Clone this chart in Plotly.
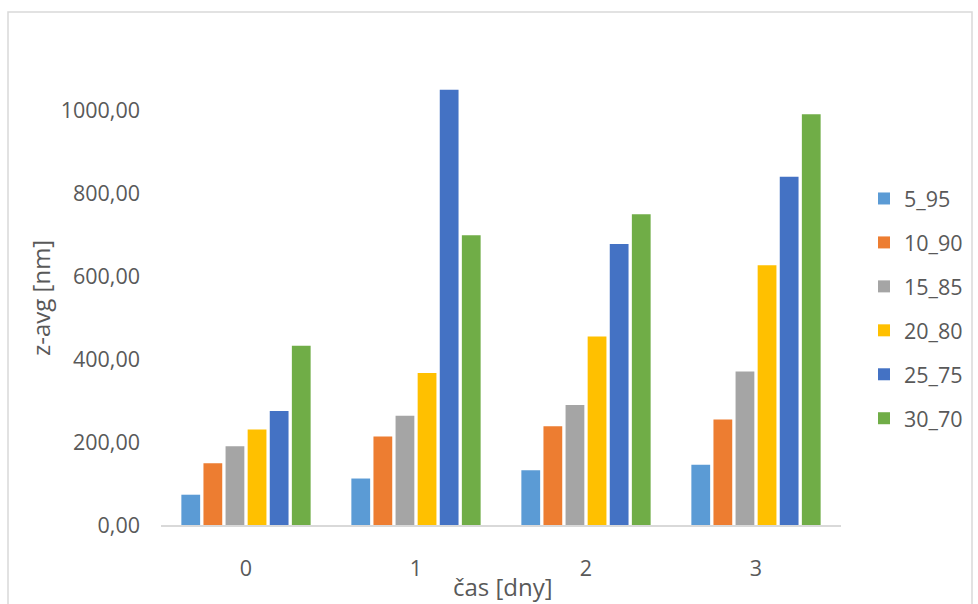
import plotly.graph_objects as go

categories = ["0", "1", "2", "3"]
series_names = ["5_95", "10_90", "15_85", "20_80", "25_75", "30_70"]
s_5_95 = [73, 112, 132, 145]
s_10_90 = [149, 213, 238, 254]
s_15_85 = [190, 263, 289, 370]
s_20_80 = [230, 366, 454, 626]
s_25_75 = [275, 1049, 677, 839]
s_30_70 = [432, 698, 749, 990]
series_values = [s_5_95, s_10_90, s_15_85, s_20_80, s_25_75, s_30_70]
colors = ["#5B9BD5", "#ED7D31", "#A5A5A5", "#FFC000", "#4472C4", "#70AD47"]
y_ticks = [0, 200, 400, 600, 800, 1000]
y_tick_labels = ["0,00", "200,00", "400,00", "600,00", "800,00", "1000,00"]

W, H = 978, 604
L, R, T, B = 161, 137, 27, 79
pw, ph = W - L - R, H - T - B

fig = go.Figure()
for i, (name, vals, col) in enumerate(zip(series_names, series_values, colors)):
    fig.add_trace(go.Bar(
        x=categories, y=vals, name=name, marker_color=col,
        marker_line_width=0, legendgroup=f"g{i}",
    ))

def px_x(px):
    return (px - L) / pw

def px_y(py):
    return (H - B - py) / ph

font_family = "Open Sans, Noto Sans, sans-serif"
text_col = "#595959"
tick_size = 21.5
title_size = 24

fig.update_layout(
    width=W, height=H,
    margin=dict(l=L, r=R, t=T, b=B, autoexpand=False),
    paper_bgcolor="white", plot_bgcolor="white",
    barmode="group", bargap=0.22, bargroupgap=0.15,
    font=dict(family=font_family, size=tick_size, color=text_col),
    showlegend=True,
    legend=dict(
        x=px_x(864), y=px_y(178), xanchor="left", yanchor="top",
        font=dict(size=tick_size, color=text_col), tracegroupgap=13,
        itemwidth=30, bgcolor="rgba(0,0,0,0)",
    ),
    xaxis=dict(
        showgrid=False, showline=True, linecolor="#D9D9D9", linewidth=1.5,
        ticks="", tickfont=dict(size=tick_size, color=text_col), ticklabelstandoff=23,
    ),
    yaxis=dict(
        range=[0, 1200], showgrid=False, showline=False, zeroline=False,
        tickvals=y_ticks, ticktext=y_tick_labels, ticks="",
        tickfont=dict(size=tick_size, color=text_col), ticklabelstandoff=20,
    ),
    annotations=[
        dict(
            text="z-avg [nm]", textangle=-90, xref="paper", yref="paper",
            x=px_x(40), y=px_y(298), showarrow=False,
            font=dict(size=title_size, color=text_col), xanchor="center", yanchor="middle",
        ),
        dict(
            text="čas [dny]", xref="paper", yref="paper",
            x=px_x(503), y=px_y(604), showarrow=False, borderpad=0,
            font=dict(size=title_size, color=text_col), xanchor="center", yanchor="bottom",
        ),
    ],
    shapes=[dict(
        type="rect", xref="paper", yref="paper",
        x0=px_x(8), x1=px_x(972), y0=px_y(640), y1=px_y(12),
        line=dict(color="#D9D9D9", width=1.5), fillcolor="rgba(0,0,0,0)", layer="below",
    )],
)

fig.write_html("out.html")
